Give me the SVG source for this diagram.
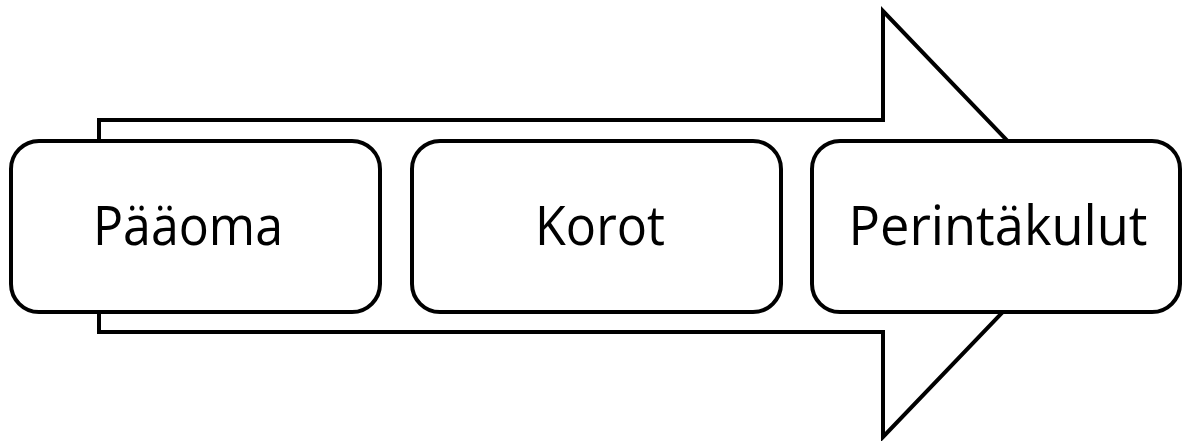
<svg xmlns="http://www.w3.org/2000/svg" width="1183" height="441" viewBox="0 0 1183 441">
<style>
.shape{fill:#fff;stroke:#000;stroke-width:4;stroke-linejoin:miter}
.box{fill:#fff;stroke:#000;stroke-width:4}
.lbl{font-family:"Open Sans","Noto Sans",sans-serif;font-size:54px;fill:#000;text-anchor:middle}
</style>
<rect width="1183" height="441" fill="#fff"/>
<g id="connectors">
<polygon id="arrow" class="shape" points="99,120 883,120 883,11 1087,224 883,437 883,332 99,332"/>
</g>
<g id="node-paaoma">
<rect class="box" x="11" y="141" width="369" height="171" rx="28"/>
<text class="lbl" x="188" y="245" textLength="190" lengthAdjust="spacingAndGlyphs">Pääoma</text>
</g>
<g id="node-korot">
<rect class="box" x="412" y="141" width="369" height="171" rx="28"/>
<text class="lbl" x="600" y="245" textLength="130" lengthAdjust="spacingAndGlyphs">Korot</text>
</g>
<g id="node-perintakulut">
<rect class="box" x="812" y="141" width="368" height="171" rx="28"/>
<text class="lbl" x="998" y="245" textLength="299" lengthAdjust="spacingAndGlyphs">Perintäkulut</text>
</g>
</svg>
